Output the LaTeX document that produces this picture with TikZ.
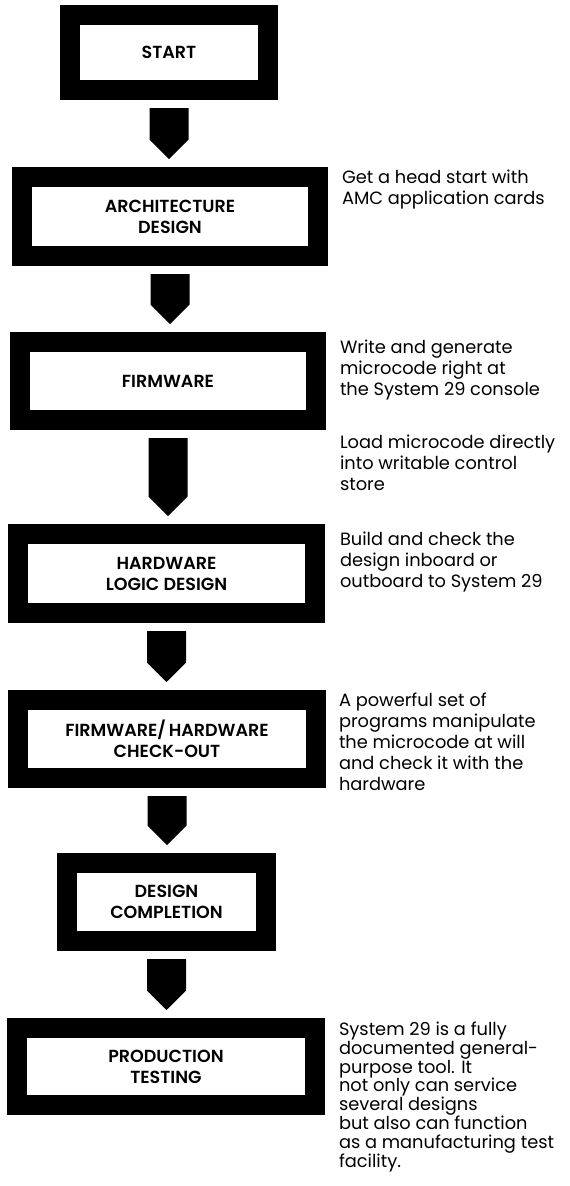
\documentclass[tikz,border=0pt]{standalone}
\usepackage{fontspec}
\setmainfont{Poppins}[BoldFont={Poppins SemiBold}]
\usetikzlibrary{calc}
\tikzset{
  stage/.style={draw=black, line width=20pt, outer sep=10pt, inner sep=0pt,
    fill=white, align=center, font=\bfseries\fontsize{17.5}{21}\selectfont},
  note/.style={anchor=base west, inner sep=0pt, outer sep=0pt, align=left,
    font=\fontsize{17.8}{20.8}\selectfont},
  tightnote/.style={note, font=\fontsize{17.8}{18.8}\selectfont},
}
\newcommand{\flowarrow}[2]{%
  \fill let \p1=(#1.south), \p2=(#2.north) in
    (\x1-19.5pt,\y1-8pt) -- (\x1+19.5pt,\y1-8pt) -- (\x1+19.5pt,\y2+27.5pt)
    -- (\x1,\y2+8pt) -- (\x1-19.5pt,\y2+27.5pt) -- cycle;}
\begin{document}
\begin{tikzpicture}[x=1pt,y=-1pt]
\useasboundingbox[fill=white] (0,0) rectangle (570,1186);
\node[stage, minimum width=198pt, minimum height=75pt] (start) at (169,52.5) {START};
\node[stage, minimum width=296pt, minimum height=79pt] (arch) at (170,216.5) {ARCHITECTURE\\DESIGN};
\node[stage, minimum width=296pt, minimum height=78pt] (fw) at (168,381) {FIRMWARE};
\node[stage, minimum width=297pt, minimum height=79pt] (hw) at (166.5,573.5) {HARDWARE\\LOGIC DESIGN};
\node[stage, minimum width=298pt, minimum height=78pt] (fwhw) at (167,739) {FIRMWARE/\,HARDWARE\\CHECK-OUT};
\node[stage, minimum width=199pt, minimum height=78pt] (dc) at (166.5,902) {DESIGN\\COMPLETION};
\node[stage, minimum width=298pt, minimum height=77pt] (prod) at (166,1066.5) {PRODUCTION\\TESTING};

\flowarrow{start}{arch}
\flowarrow{arch}{fw}
\flowarrow{fw}{hw}
\flowarrow{hw}{fwhw}
\flowarrow{fwhw}{dc}
\flowarrow{dc}{prod}

\node[note] (n1) at (342,204) {Get a head start with\\AMC application cards};
\node[note] (n2) at (340,395) {Write and generate\\microcode right at\\the System 29 console};
\node[note] (n3) at (340,490) {Load microcode directly\\into writable control\\store};
\node[note] (n4) at (340,587) {Build and check the\\design inboard or\\outboard to System 29};
\node[note] (n5) at (339,790) {A powerful set of\\programs manipulate\\the microcode at will\\and check it with the\\hardware};
\node[tightnote] (n6) at (339,1167) {System 29 is a fully\\documented general-\\purpose tool. It\\not only can service\\several designs\\but also can function\\as a manufacturing test\\facility.};
\end{tikzpicture}
\end{document}
